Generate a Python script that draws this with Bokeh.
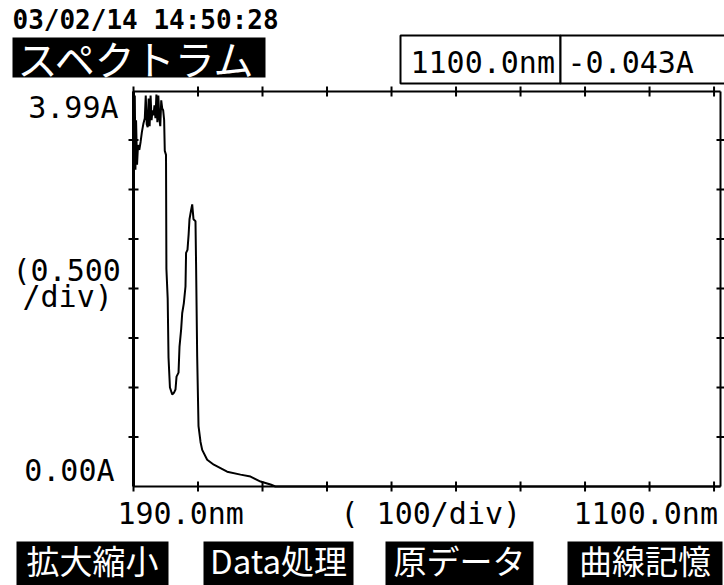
import math
from bokeh.plotting import figure
from bokeh.models import Label, BoxAnnotation, Range1d
from bokeh.embed import file_html
from bokeh.resources import INLINE

# ---- data ----
wavelength_nm = [190.0, 191.0, 192.0, 193.0, 194.0, 195.5, 197.0, 199.0, 201.0, 203.0,
                 205.5, 207.5, 209.0, 210.5, 212.0, 213.5, 215.0, 216.5, 218.0, 219.5,
                 221.0, 222.5, 224.0, 225.5, 227.0, 228.5, 230.0, 231.5, 233.0, 234.5,
                 236.0, 237.5, 238.5, 240.4, 241.0, 243.0, 244.3, 246.5, 250.0, 253.0,
                 255.1, 256.7, 259.8, 261.3, 263.9, 265.5, 268.0, 270.6, 271.5, 273.7,
                 275.5, 276.8, 279.0, 281.0, 283.0, 286.1, 287.0, 288.7, 290.8, 293.9,
                 296.5, 304.2, 314.5, 335.2, 355.9, 371.4, 386.9, 402.4, 410.0, 450.0,
                 600.0, 800.0, 1000.0, 1100.0]
absorbance = [3.99, 3.30, 3.95, 3.20, 3.70, 3.25, 3.45, 3.40, 3.48, 3.58,
              3.67, 3.72, 3.95, 3.66, 3.63, 3.92, 3.64, 3.95, 3.70, 3.80,
              3.75, 3.85, 3.72, 3.96, 3.68, 3.95, 3.72, 3.64, 3.90, 3.82,
              3.80, 3.70, 3.39, 3.35, 2.20, 1.90, 1.30, 1.00, 0.93, 0.95,
              0.98, 1.11, 1.15, 1.41, 1.59, 1.75, 1.85, 2.02, 2.36, 2.39,
              2.55, 2.70, 2.78, 2.85, 2.70, 2.68, 2.25, 1.32, 0.61, 0.45,
              0.37, 0.27, 0.22, 0.15, 0.12, 0.10, 0.05, 0.02, 0.00, -0.01,
              -0.02, -0.03, -0.04, -0.043]
x_ticks = [190, 290, 390, 490, 590, 690, 790, 890, 990, 1090]
y_ticks = [0.5, 1.0, 1.5, 2.0, 2.5, 3.0, 3.5]
x_start, x_end = 190.0, 1100.0
y_start, y_end = 0.0, 3.99

header_text = "03/02/14 14:50:28"
title_text = "スペクトラム"
cursor_wl_text = "1100.0nm"
cursor_abs_text = "-0.043A"
y_top_text = "3.99A"
y_div_text1 = "(0.500"
y_div_text2 = "/div)"
y_bottom_text = "0.00A"
x_left_text = "190.0nm"
x_div_text = "( 100/div)"
x_right_text = "1100.0nm"
menu_labels = ["拡大縮小", "Data処理", "原データ", "曲線記憶"]

# ---- layout (pixels from the top-left of the picture) ----
W, H = 724, 585
FL, FR, FT, FB = 133, 720, 91, 486   # plot box inside the canvas

MONO = "DejaVu Sans Mono"
CJK = "Noto Sans CJK JP"

kx = (FR - FL) / (x_end - x_start)
ky = (FB - FT) / (y_end - y_start)

# the frame is the whole canvas, so that the texts round the plot box are not clipped
p = figure(width=W, height=H, output_backend="svg", toolbar_location=None,
           x_range=Range1d(x_start - FL / kx, x_end + (W - FR) / kx),
           y_range=Range1d(y_start - (H - FB) / ky, y_end + FT / ky),
           x_axis_location=None, y_axis_location=None,
           min_border=0)
p.grid.grid_line_color = None
p.outline_line_color = None
p.background_fill_color = "white"
p.border_fill_color = "white"

# plot box (axis lines)
p.segment(x0=[x_start, x_start], y0=[y_start, y_end], x1=[x_end, x_end], y1=[y_start, y_end],
          line_color="black", line_width=2)
p.segment(x0=[x_start], y0=[y_start], x1=[x_start], y1=[y_end], line_color="black", line_width=3)
p.segment(x0=[x_end], y0=[y_start], x1=[x_end], y1=[y_end], line_color="black", line_width=2)

# crossing tick marks
p.scatter(x_ticks, [y_start] * len(x_ticks), marker="dash", size=10, angle=math.pi / 2,
          line_color="black", line_width=2)
p.scatter(x_ticks, [y_end] * len(x_ticks), marker="dash", size=10, angle=math.pi / 2,
          line_color="black", line_width=2)
p.scatter([x_start] * len(y_ticks), y_ticks, marker="dash", size=10,
          line_color="black", line_width=2)
p.scatter([x_end] * len(y_ticks), y_ticks, marker="dash", size=8,
          line_color="black", line_width=2)

# the instrument clips the trace to the displayed range
shown = [min(max(a, y_start), y_end) for a in absorbance]
p.line(wavelength_nm, shown, line_color="black", line_width=2)


def sx(px):
    return px


def sy(py):
    return H - py


def box(l, t, r, b, fill="black", line=None, lw=0):
    p.add_layout(BoxAnnotation(left=sx(l), right=sx(r), top=sy(t), bottom=sy(b),
                               left_units="screen", right_units="screen",
                               top_units="screen", bottom_units="screen",
                               fill_color=fill, fill_alpha=1.0,
                               line_color=line, line_alpha=1.0, line_width=lw,
                               level="underlay"))


def text(px, py, s, font=MONO, size=30, color="black", align="left",
         baseline="alphabetic", style="normal", shift=None):
    # shift: measured offset between Bokeh's anchor and the glyph baseline
    if shift is None:
        shift = round(size * 0.37) if baseline == "alphabetic" else 0
    p.add_layout(Label(x=sx(px), y=sy(py - shift), x_units="screen", y_units="screen",
                       text=s, text_font=font, text_font_size=f"{size}px",
                       text_color=color, text_align=align, text_baseline=baseline,
                       text_font_style=style, level="overlay"))


# header
text(12, 26, header_text, size=26, style="bold", shift=7)
box(12, 37, 265, 77)
text(137, 57, title_text, font=CJK, size=40, color="white", align="center",
     baseline="middle")

# cursor readout box
box(400, 35, 560, 83, fill="white", line="black", lw=2)
box(560, 35, 740, 83, fill="white", line="black", lw=2)
text(410, 73, cursor_wl_text)
text(567, 73, cursor_abs_text)

# y axis texts
text(118, 118, y_top_text, align="right")
text(12, 281, y_div_text1)
text(22, 307, y_div_text2)
text(114, 481, y_bottom_text, align="right")

# x axis texts
text(117, 524, x_left_text)
text(340, 524, x_div_text)
text(573, 524, x_right_text)

# menu keys
menu_boxes = [(16, 168), (203, 353), (385, 533), (567, 722)]
for (l, r), s in zip(menu_boxes, menu_labels):
    box(l, 541, r, 600)
    text((l + r) / 2, 559, s, font=CJK, size=33, color="white", align="center",
         baseline="middle")

open("out.html", "w").write(file_html(p, INLINE))
